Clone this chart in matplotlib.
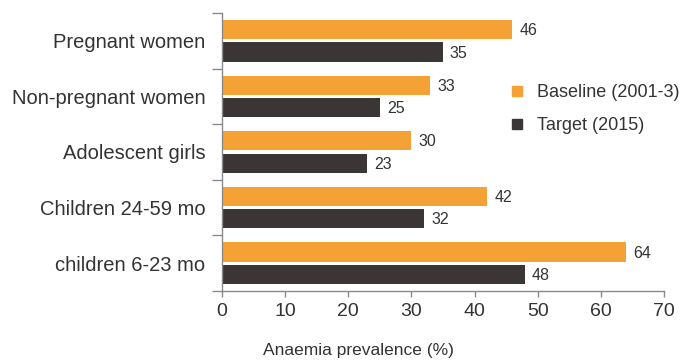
import matplotlib
matplotlib.use("Agg")
import matplotlib.pyplot as plt
from matplotlib.lines import Line2D
import numpy as np

plt.rcParams['font.family'] = ['Liberation Sans', 'DejaVu Sans']

categories = ["Pregnant women", "Non-pregnant women", "Adolescent girls",
              "Children 24-59 mo", "children 6-23 mo"]
baseline = [46, 33, 30, 42, 64]
target = [35, 25, 23, 32, 48]
series_names = ["Baseline (2001-3)", "Target (2015)"]
xticks = [0, 10, 20, 30, 40, 50, 60, 70]

c_base = "#F4A236"
c_targ = "#3B3535"
txt = "#333333"
spine_c = "#8a8a8a"

fig = plt.figure(figsize=(6.82, 3.6), dpi=100)
ax = fig.add_axes([222/682, 1-291/360, (664-222)/682, (291-13)/360])

y = np.arange(len(categories))
h = 0.345
off = 0.2
ax.barh(y - off, baseline, height=h, color=c_base, zorder=2)
ax.barh(y + off, target, height=h, color=c_targ, zorder=2)

for yi, v in zip(y, baseline):
    ax.text(v + 1.1, yi - off + 0.02, str(v), va='center', ha='left', fontsize=11.5, color=txt)
for yi, v in zip(y, target):
    ax.text(v + 1.1, yi + off + 0.02, str(v), va='center', ha='left', fontsize=11.5, color=txt)

ax.set_xlim(0, 70)
ax.set_ylim(len(categories) - 0.5, -0.5)
ax.set_xticks(xticks)
ax.set_xticklabels([str(t) for t in xticks], fontsize=14, color=txt)
ax.set_yticks(y)
ax.set_yticklabels(categories, fontsize=14.5, color=txt)
ax.set_yticks(np.arange(len(categories) + 1) - 0.5, minor=True)
ax.tick_params(axis='y', which='major', length=0, pad=12)
ax.tick_params(axis='y', which='minor', length=7.2, width=1.0, color=spine_c, direction='out')
ax.tick_params(axis='x', which='major', length=4, width=1.0, color=spine_c, direction='out', pad=5)

for s in ['top', 'right']:
    ax.spines[s].set_visible(False)
for s in ['left', 'bottom']:
    ax.spines[s].set_color(spine_c)
    ax.spines[s].set_linewidth(1.0)

handles = [Line2D([], [], marker='s', linestyle='none', markersize=7.5, color=c_base),
           Line2D([], [], marker='s', linestyle='none', markersize=7.5, color=c_targ)]
leg = fig.legend(handles, series_names, loc='center left',
                 bbox_to_anchor=(499/682, 1-109/360), frameon=False,
                 fontsize=13, borderpad=0, handlelength=1.0, handletextpad=0.6,
                 labelspacing=0.9, labelcolor=txt)

fig.text(358/682, 1-350/360, "Anaemia prevalence (%)", ha='center', va='center',
         fontsize=12.5, color=txt)

fig.savefig("out.png", dpi=100)
